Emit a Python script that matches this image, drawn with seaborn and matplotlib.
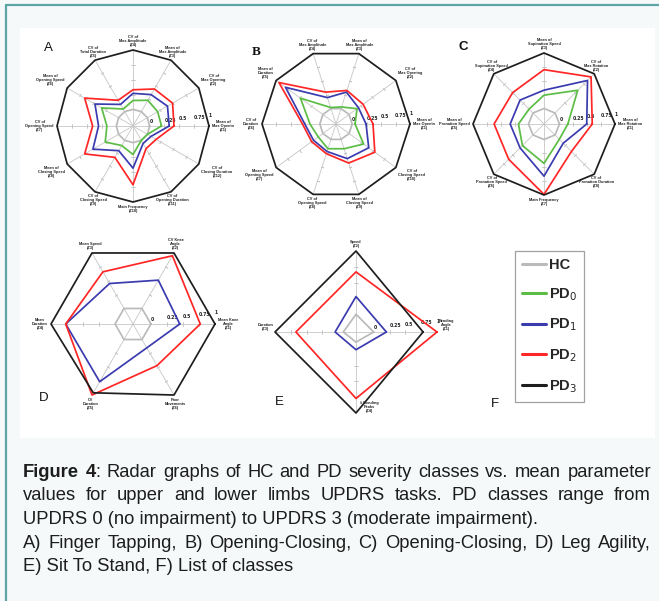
import numpy as np
import pandas as pd
import matplotlib.pyplot as plt
import seaborn as sns
from matplotlib.lines import Line2D
from matplotlib.patches import Rectangle

sns.set_theme(style="white")
plt.rcParams["font.family"] = ["DejaVu Sans"]

W, H = 659, 601

classes = ["HC", "PD0", "PD1", "PD2", "PD3"]
class_labels = ["HC", r"PD$_0$", r"PD$_1$", r"PD$_2$", r"PD$_3$"]
class_colors = {"HC": "#bababa", "PD0": "#5cbd45", "PD1": "#3b3bb0",
                "PD2": "#ff2626", "PD3": "#1e1e1e"}
tick_vals = [0, 0.25, 0.5, 0.75, 1]
tick_text = ["0", "0.25", "0.5", "0.75", "1"]

# A) Finger tapping
a_names = ["Mean of\nMax Openin\n(Z1)", "CV of\nMax Opening\n(Z2)", "Mean of\nMax Amplitude\n(Z3)",
           "CV of\nMax Amplitude\n(Z4)", "CV of\nTotal Duration\n(Z5)", "Mean of\nOpening Speed\n(Z6)",
           "CV of\nOpening Speed\n(Z7)", "Mean of\nClosing Speed\n(Z8)", "CV of\nClosing Speed\n(Z9)",
           "Main Frequency\n(Z10)", "CV of\nOpening Duration\n(Z11)", "CV of\nClosing Duration\n(Z12)"]
a_hc = [0, 0, 0, 0, 0, 0, 0, 0, 0, 0, 0, 0]
a_pd0 = [0.20, 0.20, 0.22, 0.15, 0.05, 0.33, 0.16, 0.26, 0.10, 0.20, 0.00, 0.00]
a_pd1 = [0.33, 0.39, 0.33, 0.27, 0.14, 0.46, 0.30, 0.50, 0.20, 0.43, 0.06, 0.07]
a_pd2 = [0.41, 0.49, 0.44, 0.33, 0.22, 0.66, 0.40, 0.66, 0.33, 0.71, 0.16, 0.17]
a_pd3 = [1, 1, 1, 1, 1, 1, 1, 1, 1, 1, 1, 1]

# B) Opening-closing
b_names = ["Mean of\nMax Openin\n(Z1)", "CV of\nMax Opening\n(Z2)", "Mean of\nMax Amplitude\n(Z3)",
           "CV of\nMax Amplitude\n(Z4)", "Mean of\nDuration\n(Z5)", "CV of\nDuration\n(Z6)",
           "Mean of\nOpening Speed\n(Z7)", "CV of\nOpening Speed\n(Z8)", "Mean of\nClosing Speed\n(Z9)",
           "CV of\nClosing Speed\n(Z10)"]
b_hc = [0, 0, 0, 0, 0, 0, 0, 0, 0, 0]
b_pd0 = [0.05, 0.17, 0.03, 0.02, 0.48, 0.17, 0.10, 0.17, 0.17, 0.31]
b_pd1 = [0.24, 0.20, 0.30, 0.20, 0.80, 0.26, 0.20, 0.22, 0.35, 0.42]
b_pd2 = [0.36, 0.30, 0.33, 0.30, 0.94, 0.30, 0.24, 0.26, 0.43, 0.55]
b_pd3 = [1, 1, 1, 1, 1, 1, 1, 1, 1, 1]

# C) Opening-closing (rotation)
c_names = ["Mean of\nMax Rotation\n(Z1)", "CV of\nMax Rotation\n(Z2)", "Mean of\nSupination Speed\n(Z3)",
           "CV of\nSupination Speed\n(Z4)", "Mean of\nPronation Speed\n(Z5)", "CV of\nPronation Speed\n(Z6)",
           "Main Frequency\n(Z7)", "CV of\nPronation Duration\n(Z8)"]
c_hc = [0, 0, 0, 0, 0, 0, 0, 0]
c_pd0 = [0.15, 0.58, 0.24, 0.10, 0.18, 0.27, 0.43, 0.11]
c_pd1 = [0.49, 0.83, 0.33, 0.33, 0.33, 0.33, 0.66, 0.21]
c_pd2 = [0.59, 0.92, 0.70, 0.52, 0.62, 0.62, 0.99, 0.42]
c_pd3 = [1, 1, 1, 1, 1, 1, 1, 1]

# D) Leg agility
d_names = ["Mean Knee\nAngle\n(Z1)", "CV Knee\nAngle\n(Z2)", "Mean Speed\n(Z3)",
           "Mean\nDuration\n(Z4)", "CV\nDuration\n(Z5)", "Poor\nMovements\n(Z6)"]
d_hc = [0, 0, 0, 0, 0, 0]
d_pd1 = [0.45, 0.51, 0.45, 0.77, 0.76, 0.15]
d_pd2 = [0.77, 0.95, 0.66, 0.77, 1.00, 0.47]
d_pd3 = [1, 1, 1, 1, 0.96, 1]

# E) Sit to stand
e_names = ["Bending\nAngle\n(Z1)", "Speed\n(Z2)", "Duration\n(Z3)", "# Bending\nPeaks\n(Z4)"]
e_hc = [0, 0, -0.08, -0.12]
e_pd1 = [0.20, 0.28, 0.05, 0.00]
e_pd2 = [1.00, 0.67, 0.67, 0.77]
e_pd3 = [0.78, 1.00, 1.00, 1.00]

RMIN = -0.28

fig = plt.figure(figsize=(W / 100, H / 100), dpi=100)
fig.patch.set_facecolor("#f6f9f9")
fig.add_artist(Rectangle((20 / W, 1 - 438 / H), 635 / W, 410 / H, transform=fig.transFigure,
                         facecolor="white", edgecolor="none", zorder=-5))
fig.add_artist(Line2D([6 / W, 1], [1 - 5 / H, 1 - 5 / H], transform=fig.transFigure,
                      color="#5ea6a6", lw=1.6))
fig.add_artist(Line2D([6 / W, 6 / W], [1 - 5 / H, 0], transform=fig.transFigure,
                      color="#5ea6a6", lw=1.6))


def polar_at(cx, cy, r):
    return fig.add_axes([(cx - r) / W, 1 - (cy + r) / H, 2 * r / W, 2 * r / H], projection="polar")


def radar(ax, names, series, label_pos=None):
    n = len(names)
    theta = np.linspace(0, 2 * np.pi, n, endpoint=False)
    rows = []
    for cls, vals in series.items():
        for i in range(n + 1):
            rows.append({"theta": theta[i] if i < n else 2 * np.pi, "value": vals[i % n], "cls": cls})
    df = pd.DataFrame(rows)
    order = [c for c in classes if c in series]
    sns.lineplot(data=df, x="theta", y="value", hue="cls", hue_order=order, palette=class_colors,
                 sort=False, estimator=None, legend=False, lw=1.25, clip_on=False, ax=ax, zorder=3)
    ax.set_xlabel("")
    ax.set_ylabel("")
    ax.set_ylim(RMIN, 1)
    ax.set_xticks(theta)
    ax.set_xticklabels([])
    ax.xaxis.grid(True, color="#c6c6c6", lw=0.6)
    ax.yaxis.grid(False)
    ax.set_yticks(tick_vals)
    ax.set_yticklabels(tick_text, fontsize=3.3, fontweight="bold", color="#222")
    ax.set_rlabel_position(6)
    ax.tick_params(axis="y", pad=0)
    ax.spines["polar"].set_visible(False)
    ax.patch.set_visible(False)
    for t in theta:
        ax.plot([t, t, t], [0.25, 0.5, 0.75], ls="none", marker=(2, 2, np.degrees(t)),
                ms=2.2, mew=0.5, color="#c6c6c6", zorder=1)
    for i, (t, name) in enumerate(zip(theta, names)):
        c, s = np.cos(t), np.sin(t)
        if label_pos is not None:
            ha, va, dx, dy = label_pos[i]
        else:
            ha = "left" if c > 0.75 else ("right" if c < -0.75 else "center")
            va = "bottom" if s > 0.3 else ("top" if s < -0.3 else "center")
            dx, dy = 2.2 * c, 2.2 * s
        ax.annotate(name, xy=(t, 1), xytext=(dx, dy), textcoords="offset points", ha=ha, va=va,
                    fontsize=2.8, family="Liberation Sans", fontweight="bold", linespacing=1.0,
                    color="#222", multialignment="center", annotation_clip=False)


axA = polar_at(133, 126, 76)
radar(axA, a_names, {"HC": a_hc, "PD0": a_pd0, "PD1": a_pd1, "PD2": a_pd2, "PD3": a_pd3})
axB = polar_at(336, 124, 74)
radar(axB, b_names, {"HC": b_hc, "PD0": b_pd0, "PD1": b_pd1, "PD2": b_pd2, "PD3": b_pd3})
axC = polar_at(544, 124, 71)
radar(axC, c_names, {"HC": c_hc, "PD0": c_pd0, "PD1": c_pd1, "PD2": c_pd2, "PD3": c_pd3})
axD = polar_at(133, 324, 82)
radar(axD, d_names, {"HC": d_hc, "PD1": d_pd1, "PD2": d_pd2, "PD3": d_pd3})
axE = polar_at(356, 332, 81)
radar(axE, e_names, {"HC": e_hc, "PD1": e_pd1, "PD2": e_pd2, "PD3": e_pd3},
      label_pos=[("left", "bottom", 1, 1), ("center", "bottom", 0, 2),
                 ("right", "bottom", -1, 1), ("left", "center", 3, 4)])

# panel letters
for letter, x, y, fam, wt in [("A", 48, 48, "Liberation Sans", "normal"),
                              ("B", 256, 52, "Liberation Serif", "bold"),
                              ("C", 463, 47, "Liberation Sans", "bold"),
                              ("D", 44, 398, "Liberation Sans", "normal"),
                              ("E", 279, 402, "Liberation Sans", "normal"),
                              ("F", 495, 404, "Liberation Sans", "normal")]:
    fig.text(x / W, 1 - y / H, letter, ha="center", va="center", fontsize=9.5,
             family=fam, fontweight=wt, color="#111")

# F) legend of classes
handles = [Line2D([], [], color=class_colors[c], lw=2.2) for c in classes]
leg = fig.legend(handles, class_labels, loc="upper left", bbox_to_anchor=(515 / W, 1 - 251 / H),
                 borderaxespad=0, frameon=True, fancybox=False, handlelength=1.6,
                 handletextpad=0.2, labelspacing=0.95, borderpad=0.5,
                 prop={"family": "Liberation Sans", "weight": "bold", "size": 10.5})
leg.get_frame().set_edgecolor("#8a8a8a")
leg.get_frame().set_linewidth(0.9)

# caption, justified like the original
caption = [
    ([("Figure", "bold"), ("4", "bold|:"), ("Radar", ""), ("graphs", ""), ("of", ""), ("HC", ""),
      ("and", ""), ("PD", ""), ("severity", ""), ("classes", ""), ("vs.", ""), ("mean", ""),
      ("parameter", "")], True),
    ("values for upper and lower limbs UPDRS tasks. PD classes range from", True),
    ("UPDRS 0 (no impairment) to UPDRS 3 (moderate impairment).", False),
    ("A) Finger Tapping, B) Opening-Closing, C) Opening-Closing, D) Leg Agility,", True),
    ("E) Sit To Stand, F) List of classes", False),
]
left, right, base0, step = 23, 651, 477, 23.5
fs = 13.2
cap_style = dict(fontsize=fs, family="Liberation Sans", color="#1d1d1d", va="baseline", ha="left")
fig.canvas.draw()
rend = fig.canvas.get_renderer()

for li, (line, justify) in enumerate(caption):
    y = 1 - (base0 + li * step) / H
    if not justify:
        fig.text(left / W, y, line, **cap_style)
        continue
    words = line if isinstance(line, list) else [(w, "") for w in line.split()]
    pieces = []
    for w, style in words:
        if style == "bold":
            segs = [(w, "bold")]
        elif style == "bold|:":
            segs = [(w, "bold"), (":", "normal")]
        else:
            segs = [(w, "normal")]
        arts = []
        width = 0
        for txt, wt in segs:
            t = fig.text(0, y, txt, fontweight=wt, **cap_style)
            tw = t.get_window_extent(rend).width
            arts.append((t, width))
            width += tw
        pieces.append((arts, width))
    total = sum(p[1] for p in pieces)
    gap = (right - left - total) / (len(pieces) - 1)
    x = left
    for arts, width in pieces:
        for t, off in arts:
            t.set_x((x + off) / W)
        x += width + gap

fig.savefig("out.png", dpi=100, facecolor=fig.get_facecolor())
